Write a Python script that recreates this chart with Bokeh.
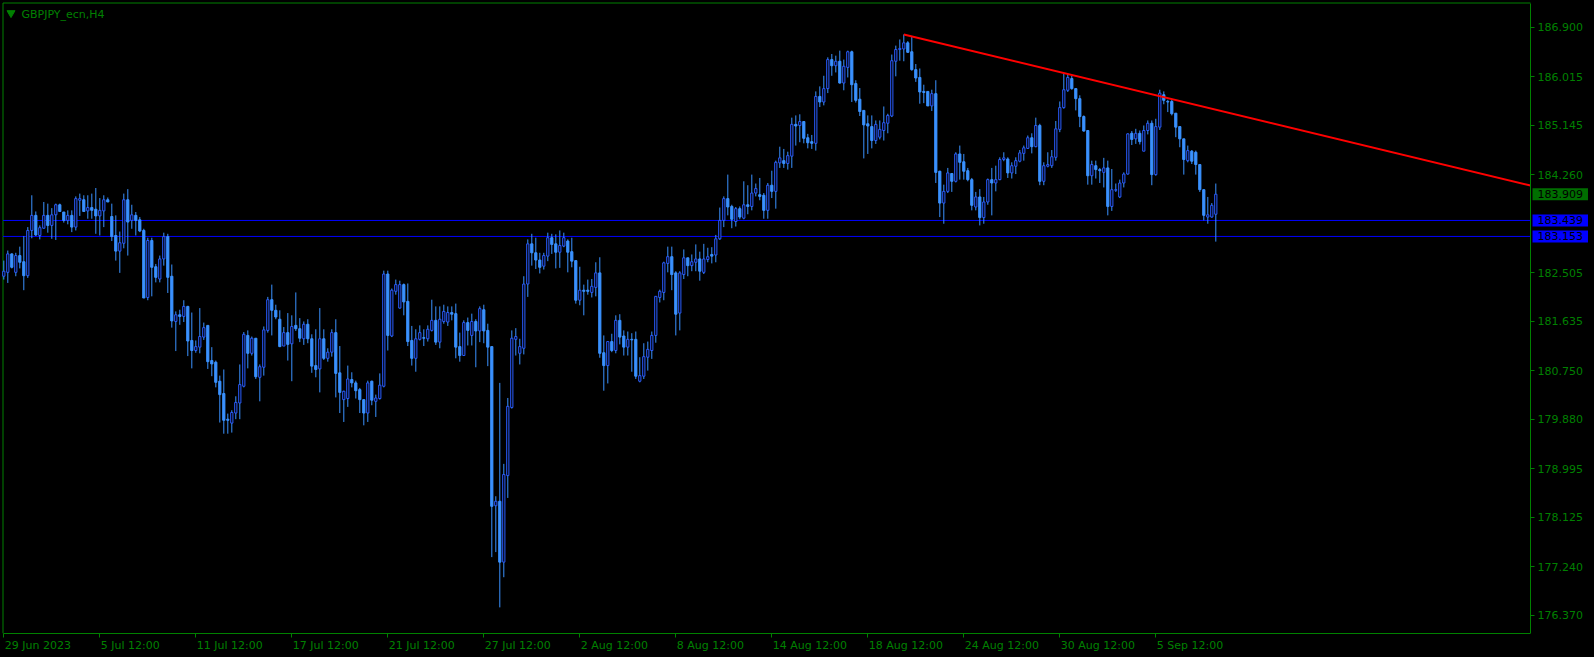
from bokeh.plotting import figure
from bokeh.models import (Range1d, FixedTicker, Label, ColumnDataSource,
                          NumeralTickFormatter, GlobalInlineStyleSheet)
from bokeh.embed import file_html
from bokeh.resources import INLINE

# ---------------- data (GBPJPY H4) ----------------
symbol_title = "GBPJPY_ecn,H4"

open_ = [
    182.44, 182.51, 182.84, 182.51, 182.81, 182.70, 182.45, 183.26, 183.53, 183.17,
    183.30, 183.53, 183.35, 183.54, 183.72, 183.59, 183.44, 183.53, 183.32, 183.80,
    183.81, 183.61, 183.67, 183.64, 183.52, 183.61, 183.81, 183.51, 183.17, 182.89,
    183.03, 183.81, 183.44, 183.53, 183.45, 183.26, 182.06, 183.08, 182.61, 182.39,
    182.75, 183.15, 182.44, 181.63, 181.75, 181.72, 181.90, 181.29, 181.11, 181.17,
    181.35, 181.56, 180.93, 180.90, 180.56, 180.34, 179.88, 179.81, 179.99, 180.17,
    180.47, 181.38, 181.06, 181.33, 180.63, 180.81, 181.47, 182.02, 181.83, 181.67,
    181.19, 181.43, 181.23, 181.56, 181.50, 181.32, 181.58, 181.32, 180.84, 180.78,
    181.32, 180.97, 181.08, 181.43, 180.71, 180.23, 180.25, 180.59, 180.53, 180.41,
    180.23, 179.99, 180.56, 180.20, 180.25, 180.47, 182.48, 181.37, 182.17, 181.87,
    182.29, 181.99, 181.29, 180.97, 181.31, 181.34, 181.32, 181.47, 181.65, 181.26,
    181.63, 181.62, 181.79, 181.77, 181.18, 181.02, 181.61, 181.38, 181.63, 181.46,
    181.84, 181.47, 181.18, 178.33, 178.41, 177.32, 178.87, 180.09, 181.31, 181.06,
    181.15, 182.30, 183.02, 182.86, 182.73, 182.62, 182.80, 183.13, 183.02, 182.87,
    182.98, 183.07, 182.88, 182.72, 182.01, 182.19, 182.19, 182.15, 182.24, 182.50,
    181.07, 180.84, 181.27, 181.11, 181.65, 181.37, 181.17, 181.31, 181.31, 180.56,
    180.65, 180.99, 181.11, 181.38, 182.06, 182.15, 182.67, 182.79, 182.50, 181.78,
    182.47, 182.77, 182.63, 182.69, 182.75, 182.51, 182.74, 182.83, 182.82, 183.11,
    183.44, 183.83, 183.69, 183.42, 183.65, 183.48, 183.72, 183.69, 183.93, 183.90,
    183.89, 183.62, 184.07, 183.96, 184.47, 184.51, 184.46, 184.59, 185.16, 185.14,
    185.21, 184.92, 184.85, 184.82, 185.66, 185.56, 185.80, 186.32, 186.21, 186.29,
    185.90, 186.18, 186.46, 185.89, 185.61, 185.41, 185.17, 185.12, 184.87, 184.93,
    185.05, 185.18, 185.31, 186.29, 186.50, 186.51, 186.62, 186.46, 186.14, 186.00,
    185.75, 185.75, 185.49, 185.71, 184.32, 183.75, 183.96, 184.28, 184.14, 184.63,
    184.49, 184.33, 184.17, 183.68, 183.86, 183.49, 183.77, 184.17, 184.11, 184.17,
    184.53, 184.54, 184.29, 184.41, 184.50, 184.64, 184.73, 184.92, 184.76, 185.14,
    184.14, 184.41, 184.42, 184.57, 185.07, 185.46, 185.77, 185.98, 185.80, 185.62,
    185.30, 185.05, 184.24, 184.42, 184.35, 184.30, 184.38, 183.69, 183.98, 183.86,
    184.11, 184.27, 185.00, 184.90, 185.00, 184.68, 185.05, 185.18, 184.26, 185.11,
    185.69, 185.57, 185.57, 185.36, 185.12, 184.90, 184.51, 184.68, 184.66, 184.44,
    183.99, 183.50, 183.50, 183.55,
]

high = [
    182.72, 182.90, 182.85, 182.86, 182.97, 183.16, 183.32, 183.89, 183.60, 183.35,
    183.77, 183.74, 183.66, 183.74, 183.74, 183.59, 183.62, 183.62, 183.87, 183.92,
    183.89, 183.89, 183.92, 184.02, 183.84, 183.89, 183.85, 183.74, 183.53, 183.24,
    183.92, 184.00, 183.72, 183.59, 183.50, 183.29, 183.13, 183.13, 182.66, 182.81,
    183.22, 183.20, 182.65, 181.81, 181.84, 182.01, 181.91, 181.79, 181.29, 181.87,
    181.61, 181.56, 181.17, 180.93, 180.66, 180.77, 179.98, 180.04, 180.29, 180.86,
    181.44, 181.47, 181.36, 181.33, 180.86, 181.54, 182.07, 182.29, 181.93, 181.83,
    181.53, 181.78, 181.74, 182.15, 181.69, 181.63, 181.67, 181.40, 181.49, 181.87,
    181.49, 181.15, 181.49, 181.67, 181.19, 180.39, 180.84, 180.72, 180.57, 180.44,
    180.23, 180.57, 180.57, 180.32, 180.70, 182.54, 182.54, 182.22, 182.38, 182.36,
    182.31, 182.31, 181.55, 181.49, 181.56, 181.49, 181.56, 182.02, 181.90, 181.90,
    181.93, 181.90, 181.90, 181.95, 181.43, 181.65, 181.70, 181.77, 181.67, 181.90,
    181.93, 181.59, 181.18, 178.50, 180.53, 179.08, 180.26, 181.47, 181.51, 181.32,
    182.44, 183.10, 183.20, 183.13, 182.86, 182.86, 183.22, 183.20, 183.19, 183.26,
    183.22, 183.10, 183.13, 182.72, 182.61, 182.29, 182.38, 182.39, 182.69, 182.78,
    181.38, 181.27, 181.41, 181.74, 181.76, 181.47, 181.45, 181.42, 181.45, 180.99,
    181.24, 181.27, 181.45, 182.08, 182.20, 182.70, 182.97, 182.97, 182.53, 182.53,
    182.92, 182.77, 182.83, 183.01, 182.88, 183.02, 182.95, 182.96, 183.18, 183.67,
    183.87, 184.26, 183.72, 183.68, 183.69, 184.14, 184.07, 184.26, 184.10, 184.20,
    183.93, 184.11, 184.33, 184.51, 184.76, 184.72, 184.67, 185.28, 185.32, 185.34,
    185.21, 184.99, 184.97, 185.75, 185.84, 186.03, 186.36, 186.42, 186.39, 186.48,
    186.32, 186.48, 186.48, 185.95, 185.81, 185.41, 185.32, 185.32, 185.23, 185.23,
    185.48, 185.35, 186.41, 186.57, 186.68, 186.77, 186.65, 186.73, 186.24, 186.16,
    185.87, 185.75, 185.78, 185.95, 184.33, 184.08, 184.38, 184.28, 184.66, 184.78,
    184.63, 184.38, 184.20, 183.95, 184.00, 183.86, 184.19, 184.38, 184.42, 184.57,
    184.66, 184.57, 184.48, 184.57, 184.70, 184.78, 184.96, 185.00, 185.28, 185.17,
    184.48, 184.66, 184.70, 185.22, 185.57, 186.07, 186.07, 186.03, 185.80, 185.68,
    185.32, 185.05, 184.51, 184.51, 184.38, 184.56, 184.51, 184.36, 184.10, 184.17,
    184.30, 185.00, 185.04, 185.08, 185.05, 185.14, 185.23, 185.23, 185.26, 185.78,
    185.75, 185.60, 185.60, 185.36, 185.12, 184.90, 184.78, 184.70, 184.69, 184.44,
    183.99, 183.86, 183.75, 184.10,
]

low = [
    182.38, 182.32, 182.58, 182.44, 182.58, 182.19, 182.41, 183.12, 183.16, 183.10,
    183.29, 183.22, 183.11, 183.09, 183.60, 183.40, 183.37, 183.23, 183.26, 183.52,
    183.59, 183.47, 183.47, 183.20, 183.17, 183.32, 183.77, 183.07, 182.72, 182.50,
    182.94, 182.81, 183.29, 183.17, 183.23, 182.05, 182.01, 182.08, 182.33, 182.33,
    182.63, 182.14, 181.52, 181.10, 181.57, 181.62, 181.01, 180.79, 181.07, 181.06,
    181.30, 180.78, 180.65, 180.45, 179.82, 179.62, 179.62, 179.64, 179.88, 179.88,
    180.45, 180.79, 181.02, 180.60, 180.20, 180.66, 181.43, 181.38, 181.67, 181.17,
    181.19, 180.93, 180.56, 181.46, 181.26, 181.21, 181.24, 180.71, 180.63, 180.36,
    180.94, 180.91, 181.00, 180.27, 179.99, 179.83, 180.10, 180.45, 180.25, 179.99,
    179.77, 179.83, 180.13, 179.92, 180.23, 180.45, 181.11, 181.35, 182.11, 181.86,
    181.74, 181.19, 180.84, 180.73, 181.29, 181.19, 181.27, 181.45, 181.21, 181.15,
    181.59, 181.55, 181.65, 180.97, 180.91, 181.02, 181.20, 181.20, 180.81, 181.26,
    181.24, 180.83, 177.41, 177.50, 176.51, 177.05, 178.47, 180.07, 181.02, 180.86,
    181.04, 182.07, 182.63, 182.57, 182.49, 182.56, 182.71, 182.84, 182.58, 182.59,
    182.96, 182.51, 182.60, 181.95, 181.92, 181.74, 182.11, 182.06, 182.08, 180.98,
    180.39, 180.52, 181.08, 181.06, 181.22, 181.02, 181.02, 180.73, 180.60, 180.54,
    180.60, 180.75, 180.96, 181.25, 181.97, 182.01, 182.51, 182.19, 181.38, 181.47,
    182.39, 182.44, 182.53, 182.53, 182.36, 182.48, 182.69, 182.67, 182.69, 183.09,
    183.32, 183.53, 183.30, 183.33, 183.46, 183.46, 183.55, 183.62, 183.87, 183.80,
    183.47, 183.47, 183.84, 183.65, 184.38, 184.38, 184.35, 184.38, 184.78, 184.84,
    184.82, 184.73, 184.72, 184.69, 185.47, 185.50, 185.72, 186.03, 186.09, 185.89,
    185.77, 186.00, 185.56, 185.55, 185.31, 184.55, 184.63, 184.73, 184.81, 184.89,
    184.87, 185.00, 185.29, 186.02, 186.30, 186.29, 186.44, 186.12, 185.92, 185.53,
    185.54, 185.49, 185.40, 184.11, 183.50, 183.38, 183.93, 183.95, 184.12, 184.17,
    184.17, 184.14, 183.62, 183.62, 183.35, 183.38, 183.72, 183.53, 183.96, 184.16,
    184.50, 184.20, 184.19, 184.27, 184.48, 184.51, 184.72, 184.64, 184.75, 184.07,
    184.07, 184.39, 184.38, 184.51, 185.02, 185.44, 185.74, 185.78, 185.41, 185.11,
    185.03, 184.08, 184.08, 184.19, 184.11, 184.03, 183.53, 183.61, 183.95, 183.84,
    184.03, 184.26, 184.79, 184.81, 184.80, 184.68, 184.98, 184.07, 184.24, 185.06,
    185.52, 185.38, 185.32, 184.93, 184.75, 184.26, 184.48, 184.45, 184.26, 183.95,
    183.44, 183.38, 183.49, 183.06,
]

close = [
    182.53, 182.84, 182.60, 182.81, 182.69, 182.45, 183.26, 183.53, 183.18, 183.31,
    183.53, 183.35, 183.54, 183.72, 183.60, 183.44, 183.53, 183.32, 183.83, 183.83,
    183.60, 183.67, 183.62, 183.52, 183.62, 183.81, 183.77, 183.15, 182.89, 183.04,
    183.81, 183.41, 183.54, 183.44, 183.25, 182.05, 183.08, 182.60, 182.42, 182.75,
    183.15, 182.42, 181.64, 181.75, 181.72, 181.90, 181.28, 181.11, 181.18, 181.36,
    181.52, 180.91, 180.87, 180.54, 180.32, 179.86, 179.86, 180.00, 180.18, 180.50,
    181.40, 181.06, 181.33, 180.64, 180.82, 181.48, 182.02, 181.83, 181.71, 181.18,
    181.43, 181.22, 181.54, 181.50, 181.33, 181.58, 181.32, 180.83, 180.77, 181.32,
    180.97, 181.08, 181.43, 180.70, 180.36, 180.38, 180.60, 180.53, 180.39, 180.23,
    179.99, 180.53, 180.22, 180.26, 180.49, 182.48, 181.38, 182.19, 182.29, 182.29,
    181.98, 181.27, 180.97, 181.32, 181.43, 181.33, 181.49, 181.65, 181.26, 181.67,
    181.81, 181.79, 181.76, 181.17, 181.02, 181.61, 181.47, 181.63, 181.46, 181.86,
    181.46, 181.17, 178.32, 178.41, 177.32, 178.89, 180.11, 181.33, 181.36, 181.18,
    182.30, 183.02, 182.86, 182.73, 182.60, 182.81, 183.13, 183.01, 182.87, 182.99,
    183.13, 182.87, 182.71, 182.01, 182.19, 182.17, 182.17, 182.26, 182.50, 181.06,
    180.84, 181.27, 181.11, 181.65, 181.35, 181.17, 181.31, 181.30, 180.65, 180.66,
    181.00, 181.13, 181.38, 182.08, 182.17, 182.68, 182.79, 182.47, 181.76, 182.50,
    182.77, 182.63, 182.70, 182.75, 182.53, 182.75, 182.79, 182.80, 183.11, 183.44,
    183.83, 183.68, 183.46, 183.65, 183.50, 183.72, 183.69, 183.93, 184.01, 183.87,
    183.62, 184.07, 183.96, 184.48, 184.56, 184.46, 184.60, 185.16, 185.13, 185.21,
    184.91, 184.83, 184.82, 185.66, 185.56, 185.80, 186.32, 186.21, 186.29, 185.90,
    186.20, 186.46, 185.87, 185.59, 185.39, 185.15, 185.13, 184.87, 185.16, 185.07,
    185.19, 185.32, 186.30, 186.50, 186.52, 186.62, 186.45, 186.14, 185.99, 185.74,
    185.73, 185.49, 185.71, 184.30, 183.75, 183.96, 184.29, 184.14, 184.63, 184.48,
    184.32, 184.17, 183.71, 183.86, 183.49, 183.77, 184.17, 184.11, 184.17, 184.53,
    184.56, 184.29, 184.42, 184.51, 184.65, 184.74, 184.92, 184.76, 185.14, 184.14,
    184.42, 184.44, 184.58, 185.08, 185.46, 185.78, 186.00, 185.80, 185.62, 185.30,
    185.04, 184.24, 184.44, 184.35, 184.33, 184.38, 183.69, 183.99, 183.99, 184.11,
    184.27, 184.99, 184.89, 185.00, 184.85, 185.05, 185.18, 184.26, 185.12, 185.72,
    185.59, 185.56, 185.35, 185.11, 184.90, 184.53, 184.69, 184.50, 184.44, 183.99,
    183.53, 183.54, 183.71, 183.909,
]

x_tick_bars = [0, 24, 48, 72, 96, 120, 144, 168, 192, 216, 240, 264, 288]
x_tick_labels = ["29 Jun 2023", "5 Jul 12:00", "11 Jul 12:00", "17 Jul 12:00",
                 "21 Jul 12:00", "27 Jul 12:00", "2 Aug 12:00", "8 Aug 12:00",
                 "14 Aug 12:00", "18 Aug 12:00", "24 Aug 12:00", "30 Aug 12:00",
                 "5 Sep 12:00"]
y_ticks = [176.370, 177.240, 178.125, 178.995, 179.880, 180.750, 181.635,
           182.505, 184.260, 185.145, 186.015, 186.900]
level_prices = [183.439, 183.153]
bid_price = 183.909
trend_bars = [225, 381.675]
trend_prices = [186.77, 184.065]

# ---------------- styling / layout ----------------
GREEN = "#008000"
WICK = "#3a92ff"
BEAR_FILL = "#3a92ff"
BULL_LINE = "#2a5cff"
FONT = "DejaVu Sans"

# The plotting frame covers the whole page except the date row at the bottom; the
# chart area ends at page x = 1530 and the price scale lives to its right.
W, H = 1594, 657
BOTTOM_PAD = 24
FRAME_W, FRAME_H = W, H - BOTTOM_PAD          # 1594 x 633
BAR_PX = 4.0
X0 = -3.3 / BAR_PX
X1 = X0 + FRAME_W / BAR_PX
Y1 = 187.378
Y0 = Y1 - FRAME_H / 55.84


def fx(px):
    """page x (px) -> bar coordinate"""
    return X0 + (X1 - X0) * px / FRAME_W


def fy(py):
    """page y (px) -> price coordinate"""
    return Y1 - (Y1 - Y0) * py / FRAME_H


CHART_RIGHT = fx(1530)      # right border of the candle area
CHART_TOP = fy(2.5)         # top border of the candle area
CHART_LEFT = fx(2.5)        # left border of the candle area

# approximate advance widths (px) of DejaVu Sans at 11px, to left-align the date labels
CHAR_W = {" ": 3.5, ":": 3.7, ".": 3.5, "J": 3.25, "u": 6.97, "n": 6.97, "l": 3.06,
          "A": 7.5, "g": 6.98, "S": 6.98, "e": 6.77, "p": 6.98}


def text_w(s):
    return sum(CHAR_W.get(ch, 7.0) for ch in s)


label_centers = [round(b + (text_w(t) / 2 + 1) / BAR_PX, 3)
                 for b, t in zip(x_tick_bars, x_tick_labels)]

p = figure(width=W, height=H, x_range=Range1d(X0, X1), y_range=Range1d(Y0, Y1),
           y_axis_location="right", output_backend="svg", toolbar_location=None,
           min_border_left=0, min_border_top=0, min_border_right=0,
           min_border_bottom=BOTTOM_PAD, background_fill_color="black",
           border_fill_color="black")
p.stylesheets = [GlobalInlineStyleSheet(css="html, body { background-color: #000000; }")]
p.grid.visible = False
p.outline_line_color = None

# price scale: the right axis pinned at the chart's right border
ya = p.yaxis[0]
ya.fixed_location = CHART_RIGHT
ya.bounds = (Y0, CHART_TOP)
ya.ticker = FixedTicker(ticks=y_ticks)
ya.formatter = NumeralTickFormatter(format="0.000")
ya.major_label_text_color = GREEN
ya.major_label_text_font = FONT
ya.major_label_text_font_size = "11px"
ya.axis_line_color = GREEN
ya.major_tick_line_color = GREEN
ya.major_tick_out = 4
ya.major_tick_in = 0
ya.minor_tick_line_color = None
ya.major_label_standoff = 3

# time scale: tick marks at the bar positions, labels starting at the ticks
xa = p.xaxis[0]
xa.bounds = (CHART_LEFT, CHART_RIGHT)
xa.ticker = FixedTicker(ticks=label_centers, minor_ticks=x_tick_bars)
xa.major_label_overrides = {c: t for c, t in zip(label_centers, x_tick_labels)}
xa.major_label_text_color = GREEN
xa.major_label_text_font = FONT
xa.major_label_text_font_size = "11px"
xa.major_label_standoff = 1
xa.axis_line_color = GREEN
xa.major_tick_line_color = None
xa.major_tick_out = 0
xa.major_tick_in = 0
xa.minor_tick_line_color = GREEN
xa.minor_tick_out = 4
xa.minor_tick_in = 0

# left and top borders of the chart area
p.line([CHART_LEFT, CHART_LEFT, CHART_RIGHT], [Y0, CHART_TOP, CHART_TOP],
       line_color=GREEN, line_width=1)

bars = list(range(len(close)))
top = [max(o, c) for o, c in zip(open_, close)]
bottom = [min(o, c) for o, c in zip(open_, close)]
src = ColumnDataSource(dict(x=bars, h=high, l=low))
bull = [i for i in bars if close[i] >= open_[i]]
bear = [i for i in bars if close[i] < open_[i]]
src_bull = ColumnDataSource(dict(x=bull, top=[top[i] for i in bull], bottom=[bottom[i] for i in bull]))
src_bear = ColumnDataSource(dict(x=bear, top=[top[i] for i in bear], bottom=[bottom[i] for i in bear]))

# horizontal levels across the chart area
p.segment(x0=[CHART_LEFT] * len(level_prices), x1=[CHART_RIGHT] * len(level_prices),
          y0=level_prices, y1=level_prices, line_color="#0000ff", line_width=1)

p.segment(x0="x", y0="h", x1="x", y1="l", source=src, line_color=WICK, line_width=1)
p.vbar(x="x", width=0.55, top="top", bottom="bottom", source=src_bear,
       fill_color=BEAR_FILL, line_color=BEAR_FILL, line_width=1)
p.vbar(x="x", width=0.55, top="top", bottom="bottom", source=src_bull,
       fill_color="black", line_color=BULL_LINE, line_width=1)

p.line(trend_bars, trend_prices, line_color="#ff0000", line_width=2)

# title with the small drop-down triangle
p.scatter(x=[fx(10.5)], y=[fy(12.5)], marker="inverted_triangle", size=8,
          fill_color=GREEN, line_color=GREEN)
p.add_layout(Label(x=fx(21), y=fy(13.5), text=symbol_title, text_color=GREEN, text_font=FONT,
                   text_font_size="11px", text_baseline="middle", text_align="left"))

# price tags on the price scale
tag_prices = [bid_price] + level_prices
tag_colors = ["#006e00", "#0000ff", "#0000ff"]
for price, bg in zip(tag_prices, tag_colors):
    p.add_layout(Label(x=fx(1532), y=price, text=f"{price:.3f}",
                       text_align="left", text_baseline="middle", text_color="black",
                       text_font=FONT, text_font_size="11px",
                       background_fill_color=bg, padding=(5, 2)))

open("out.html", "w").write(file_html(p, INLINE))
